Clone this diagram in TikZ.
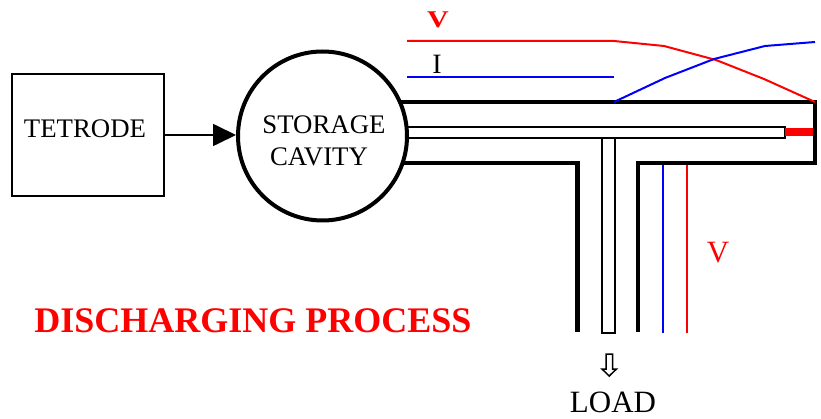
\documentclass[tikz,border=0pt]{standalone}
\usepackage{fontspec}
\setmainfont{Liberation Serif}
\usetikzlibrary{arrows.meta}
\tikzset{
  wall/.style={line width=4.4pt},
  rod/.style={line width=2.8pt},
  curvered/.style={draw=red, line width=2pt},
  curveblue/.style={draw=blue, line width=2pt},
  tag/.style={anchor=base, inner sep=0pt, font=\fontsize{26.8}{30}\selectfont},
}
\begin{document}
\begin{tikzpicture}[x=1pt, y=-1pt]
  \useasboundingbox (0,0) rectangle (821,419);

  % Puntos
  \coordinate (wallA) at (395,102);
  \coordinate (wallB) at (815,102);
  \coordinate (wallC) at (815,163);
  \coordinate (wallD) at (638,163);
  \coordinate (wallE) at (638,332);
  \coordinate (wallF) at (395,163);
  \coordinate (wallG) at (577.5,163);
  \coordinate (wallH) at (577.5,332);
  \coordinate (rodA) at (395,127);
  \coordinate (rodB) at (785,127);
  \coordinate (rodC) at (785,138);
  \coordinate (rodD) at (395,138);
  \coordinate (stubA) at (602,138);
  \coordinate (stubB) at (602,333);
  \coordinate (stubC) at (614.5,333);
  \coordinate (stubD) at (614.5,138);
  \coordinate (shortA) at (785,132.5);
  \coordinate (shortB) at (813,132.5);
  \coordinate (redA) at (407,41);
  \coordinate (redB) at (614,41);
  \coordinate (redC) at (664,46);
  \coordinate (redD) at (716,60);
  \coordinate (redE) at (764,79);
  \coordinate (redF) at (815,102);
  \coordinate (blueA) at (407,77);
  \coordinate (blueB) at (614,77);
  \coordinate (blueC) at (614,102);
  \coordinate (blueD) at (665,78);
  \coordinate (blueE) at (714,59);
  \coordinate (blueF) at (765,46);
  \coordinate (blueG) at (815,42);
  \coordinate (loadblueA) at (662.7,165);
  \coordinate (loadblueB) at (662.7,333);
  \coordinate (loadredA) at (687,165);
  \coordinate (loadredB) at (687,333);

  % Lineas
  \draw[wall] (wallA) -- (wallB) -- (wallC) -- (wallD) -- (wallE);
  \draw[wall] (wallF) -- (wallG) -- (wallH);
  \draw[rod] (rodA) -- (rodB) -- (rodC) -- (rodD);
  \draw[line width=2pt] (stubA) -- (stubB) -- (stubC) -- (stubD);
  \draw[draw=red, line width=8pt] (shortA) -- (shortB);
  \draw[curvered] (redA) -- (redB) -- (redC) -- (redD) -- (redE) -- (redF);
  \draw[curveblue] (blueA) -- (blueB);
  \draw[curveblue] (blueC) -- (blueD) -- (blueE) -- (blueF) -- (blueG);
  \draw[curveblue] (loadblueA) -- (loadblueB);
  \draw[curvered] (loadredA) -- (loadredB);

  % Nodos
  \node[draw, line width=1.7pt, minimum width=152pt, minimum height=122pt] (tetrode) at (88,135) {};
  \node[draw, fill=white, circle, line width=4pt, minimum size=169pt, inner sep=0pt] (cavity) at (322.5,136) {};
  \node[tag] (tetrodetext) at (85,138) {TETRODE};
  \node[tag] (storagetext) at (324,134) {STORAGE};
  \node[tag] (cavitytext) at (319,166) {CAVITY};
  \node[tag, text=red, font=\fontsize{24}{28}\selectfont\bfseries, xscale=1.25] (vtop) at (438,28) {V};
  \node[tag, font=\fontsize{28}{30}\selectfont] (itop) at (437,74) {I};
  \node[tag, text=red, font=\fontsize{31}{34}\selectfont] (vload) at (718,263) {V};
  \node[tag, font=\fontsize{31}{34}\selectfont] (load) at (613,412) {LOAD};
  \node[tag, text=red, font=\fontsize{36}{40}\selectfont\bfseries] (title) at (253,332) {DISCHARGING PROCESS};

  % Flechas
  \draw[-{Triangle[length=23pt,width=22pt]}, line width=1.7pt] (tetrode.east) -- (tetrode.east -| cavity.west);
  \draw[line width=1.5pt, fill=white] (606,354) -- (612.5,354) -- (612.5,369) -- (616.5,369)
    -- (609.2,376) -- (602,369) -- (606,369) -- cycle;
\end{tikzpicture}
\end{document}
